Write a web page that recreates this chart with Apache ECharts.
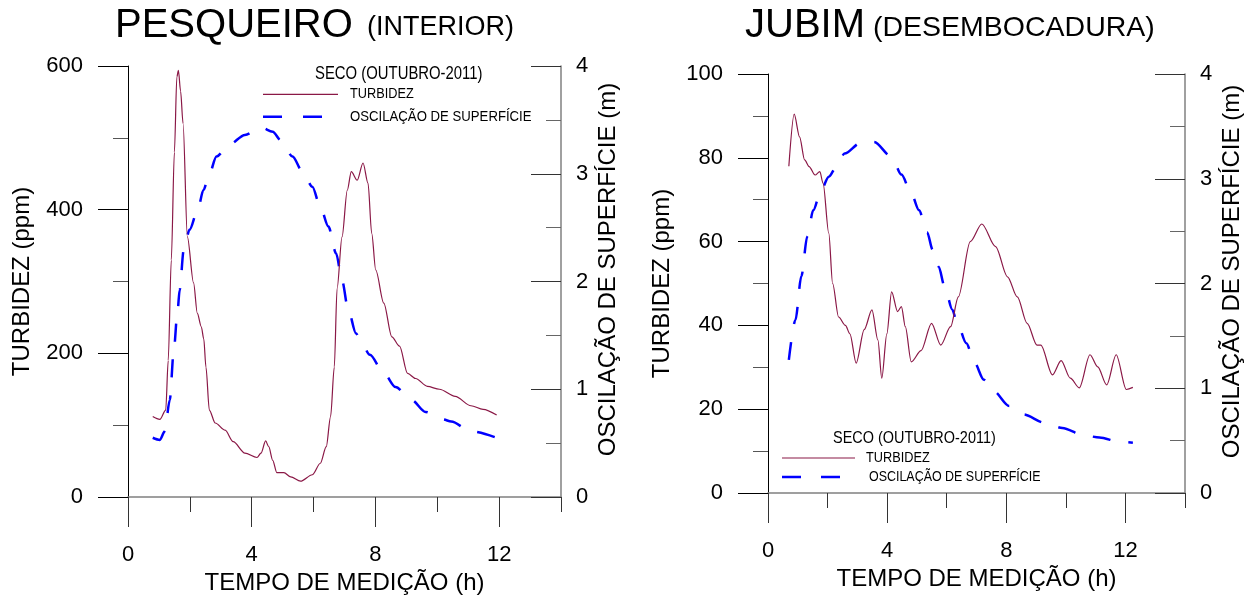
<!DOCTYPE html>
<html>
<head>
<meta charset="utf-8">
<script src="https://cdn.jsdelivr.net/npm/echarts@6/dist/echarts.min.js"></script>
<style>
html,body{margin:0;padding:0;background:#fff;}
#c{width:1257px;height:601px;}
</style>
</head>
<body>
<div id="c"></div>
<script>
// ---------- DATA ----------
const xTicks = [0, 4, 8, 12];
const xMinorTicks = [2, 6, 10, 14];

// PESQUEIRO (INTERIOR)
const pesqTurbTime  = [0.80,1.03,1.22,1.30,1.40,1.50,1.58,1.63,1.70,1.78,1.92,2.12,2.24,2.37,2.45,2.52,2.63,2.82,3.14,3.40,3.78,4.17,4.30,4.45,4.55,4.68,4.81,5.04,5.26,5.58,5.96,6.22,6.41,6.55,6.67,6.76,6.92,7.09,7.22,7.41,7.60,7.76,7.88,8.01,8.27,8.53,8.78,9.04,9.30,9.68,10.07,10.58,11.09,11.48,11.92];
const pesqTurbValue = [112,108,121,190,330,480,585,594,565,520,362,298,256,237,220,181,121,103,93,77,61,55,61,78,70,51,34,34,28,22,31,47,70,112,181,290,362,427,453,441,465,437,367,316,270,223,210,172,165,154,150,140,127,122,114];
const pesqSurfTime  = [0.80,1.03,1.19,1.35,1.48,1.60,1.67,1.80,1.99,2.25,2.44,2.63,2.86,3.27,3.78,4.30,4.68,4.94,5.32,5.64,5.96,6.22,6.48,6.73,6.92,7.12,7.37,7.50,7.82,8.27,8.65,9.17,9.62,10.19,10.45,11.09,11.92];
const pesqSurfValue = [0.55,0.53,0.61,0.90,1.36,1.72,1.92,2.29,2.48,2.66,2.85,3.00,3.16,3.27,3.36,3.43,3.39,3.31,3.16,3.02,2.88,2.69,2.51,2.26,2.01,1.74,1.52,1.46,1.32,1.15,1.02,0.90,0.79,0.72,0.70,0.61,0.55];

// JUBIM (DESEMBOCADURA)
const jubimTurbTime  = [0.70,0.88,1.06,1.23,1.38,1.58,1.74,1.85,2.04,2.17,2.37,2.60,2.75,2.96,3.23,3.49,3.69,3.82,3.99,4.15,4.35,4.48,4.61,4.81,5.14,5.49,5.80,6.13,6.39,6.79,7.18,7.64,8.04,8.37,8.70,9.03,9.16,9.55,9.84,10.15,10.45,10.81,11.07,11.37,11.69,12.03,12.25];
const jubimTurbValue = [78,90.4,85,79.5,77.9,75.9,76.7,73.9,62,50,42,40,38,31,39,43.7,36.5,27.4,38,48,43.3,44.5,39.7,31.3,34,40.5,35.3,39.7,46.8,60,64.2,58.8,51.6,46.8,40.5,35.3,35.3,28.2,31.6,27.4,25.1,33,30.1,25.8,33,24.7,25.2];
const jubimSurfTime  = [0.70,0.92,1.12,1.32,1.52,1.78,2.04,2.31,2.57,3.10,3.56,4.15,4.48,4.81,5.07,5.34,5.53,5.73,5.93,6.19,6.32,6.66,6.92,7.25,7.58,8.10,8.57,9.29,9.88,10.61,11.13,11.79,12.25];
const jubimSurfValue = [1.27,1.65,2.07,2.45,2.70,2.89,3.02,3.12,3.24,3.34,3.35,3.21,3.04,2.86,2.70,2.49,2.32,2.16,1.97,1.75,1.65,1.43,1.25,1.08,0.97,0.83,0.75,0.67,0.62,0.55,0.53,0.49,0.48];

const seriesNames = ['TURBIDEZ', 'OSCILAÇÃO DE SUPERFÍCIE'];
const legendTitle = 'SECO (OUTUBRO-2011)';
const xName = 'TEMPO DE MEDIÇÃO (h)';
const yLeftName = 'TURBIDEZ (ppm)';
const yRightName = 'OSCILAÇÃO DE SUPERFÍCIE (m)';

// ---------- STYLE ----------
const FONT = '"Liberation Sans", Arial, sans-serif';
const TURB_COLOR = '#8a1846';
const SURF_COLOR = '#0000ff';
const SURF_DASH = [18, 18];

function zip(a, b) { return a.map((v, i) => [v, b[i]]); }

function xMain(grid) {
  return {
    gridIndex: grid, type: 'value', min: 0, max: 14, interval: 2, position: 'bottom',
    axisLine: { show: true, onZero: false, lineStyle: { color: '#808080', width: 1.5 } },
    axisTick: { show: true, length: 15, lineStyle: { color: '#333', width: 1 } },
    axisLabel: {
      show: true, margin: 47, fontSize: 22, color: '#000', fontFamily: FONT,
      formatter: v => (xTicks.indexOf(v) >= 0 ? String(v) : '')
    },
    splitLine: { show: false },
    name: xName, nameLocation: 'middle', nameGap: 74,
    nameTextStyle: { fontSize: 24, color: '#000', fontFamily: FONT }
  };
}
function xMajor(grid) {
  return {
    gridIndex: grid, type: 'value', min: 0, max: 14, interval: 4, position: 'bottom',
    axisLine: { show: false, onZero: false },
    axisTick: { show: true, length: 30, customValues: xTicks, lineStyle: { color: '#333', width: 1 } },
    axisLabel: { show: false },
    splitLine: { show: false }
  };
}
function yLeft(grid, max, interval) {
  return {
    gridIndex: grid, type: 'value', position: 'left', min: 0, max: max, interval: interval,
    axisLine: { show: true, onZero: false, lineStyle: { color: '#000', width: 1 } },
    axisTick: { show: true, length: 30, lineStyle: { color: '#000', width: 1 } },
    minorTick: { show: true, splitNumber: 2, length: 15, lineStyle: { color: '#555', width: 1 } },
    axisLabel: { margin: 45, fontSize: 22, color: '#000', fontFamily: FONT },
    splitLine: { show: false },
    name: yLeftName, nameLocation: 'middle', nameGap: 94, nameRotate: 90,
    nameTextStyle: { fontSize: 24, color: '#000', fontFamily: FONT }
  };
}
function yRight(grid) {
  return {
    gridIndex: grid, type: 'value', position: 'right', min: 0, max: 4, interval: 1,
    axisLine: { show: true, onZero: false, lineStyle: { color: '#808080', width: 1.5 } },
    axisTick: { show: true, inside: true, length: 30, lineStyle: { color: '#333', width: 1 } },
    minorTick: { show: true, splitNumber: 2, length: 15, lineStyle: { color: '#666', width: 1 } },
    axisLabel: { margin: 15, fontSize: 22, color: '#000', fontFamily: FONT },
    splitLine: { show: false },
    name: yRightName, nameLocation: 'middle', nameGap: 35, nameRotate: 90,
    nameTextStyle: { fontSize: 24, color: '#000', fontFamily: FONT, padding: [0, 0, 0, 24] }
  };
}
function turbSeries(xi, yi, t, v) {
  return {
    name: seriesNames[0], type: 'line', xAxisIndex: xi, yAxisIndex: yi,
    data: zip(t, v), symbol: 'none', showSymbol: false,
    smooth: 0.3, smoothMonotone: 'x',
    lineStyle: { color: TURB_COLOR, width: 1.2 }, z: 3
  };
}
function surfSeries(xi, yi, t, v) {
  return {
    name: seriesNames[1], type: 'line', xAxisIndex: xi, yAxisIndex: yi,
    data: zip(t, v), symbol: 'none', showSymbol: false,
    smooth: 0.3, smoothMonotone: 'x',
    lineStyle: { color: SURF_COLOR, width: 2.5, type: SURF_DASH }, z: 2
  };
}

function txt(x, y, text, size, sx) {
  return {
    type: 'text', x: x, y: y, scaleX: sx, silent: true,
    style: { x: 0, y: 0, text: text, fill: '#000', align: 'left', verticalAlign: 'middle',
      font: 'normal ' + size + 'px ' + FONT }
  };
}
function hline(x1, x2, y, color, width, dash) {
  return {
    type: 'line', silent: true,
    shape: { x1: x1, y1: y, x2: x2, y2: y },
    style: { stroke: color, lineWidth: width, lineDash: dash || null }
  };
}

const graphics = [
  // titles
  txt(115, 26, 'PESQUEIRO', 40, 1),
  txt(367, 28, '(INTERIOR)', 27, 1),
  txt(745, 26, 'JUBIM', 40, 1),
  txt(873, 28.5, '(DESEMBOCADURA)', 28.5, 1),
  // legend left chart
  txt(315, 74, legendTitle, 17.5, 0.85),
  hline(263, 338, 94.3, TURB_COLOR, 1.2),
  txt(350, 94, seriesNames[0], 15, 0.85),
  hline(263, 322, 116.7, SURF_COLOR, 2.5, [19, 21]),
  txt(350, 116.7, seriesNames[1], 15.5, 0.85),
  // legend right chart
  txt(833, 438, legendTitle, 17, 0.85),
  hline(782, 855, 458, TURB_COLOR, 1.2),
  txt(866, 458, seriesNames[0], 15, 0.85),
  hline(782, 842, 477, SURF_COLOR, 2.5, [19, 20]),
  txt(869, 477, seriesNames[1], 15, 0.83)
];

const option = {
  animation: false,
  backgroundColor: '#fff',
  textStyle: { fontFamily: FONT },
  grid: [
    { left: 128, top: 66, width: 433, height: 431 },
    { left: 768, top: 74, width: 417, height: 419 }
  ],
  xAxis: [xMain(0), xMajor(0), xMain(1), xMajor(1)],
  yAxis: [yLeft(0, 600, 200), yRight(0), yLeft(1, 100, 20), yRight(1)],
  series: [
    turbSeries(0, 0, pesqTurbTime, pesqTurbValue),
    surfSeries(0, 1, pesqSurfTime, pesqSurfValue),
    turbSeries(2, 2, jubimTurbTime, jubimTurbValue),
    surfSeries(2, 3, jubimSurfTime, jubimSurfValue)
  ],
  graphic: graphics
};

const chart = echarts.init(document.getElementById('c'), null, { renderer: 'canvas' });
chart.setOption(option);
</script>
</body>
</html>
